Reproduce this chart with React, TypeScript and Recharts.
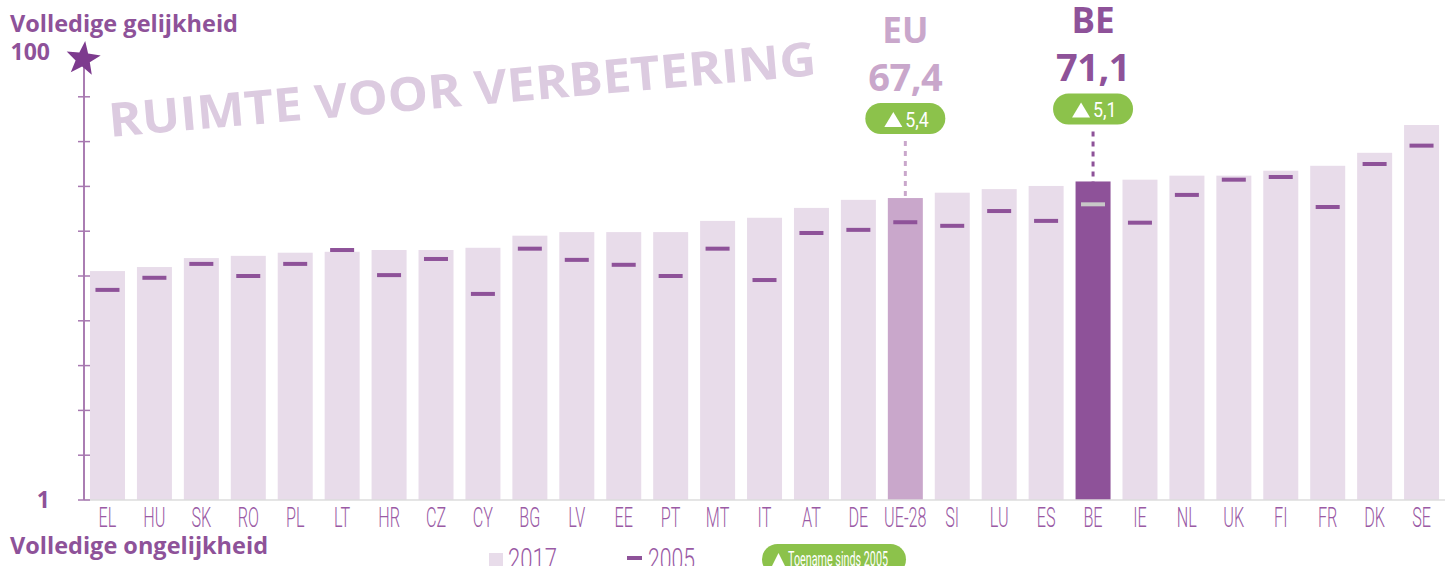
import React from 'react';
import { ComposedChart, Bar, Scatter, XAxis, YAxis } from 'recharts';

const categories = ['EL', 'HU', 'SK', 'RO', 'PL', 'LT', 'HR', 'CZ', 'CY', 'BG', 'LV', 'EE', 'PT', 'MT', 'IT', 'AT', 'DE', 'UE-28', 'SI', 'LU', 'ES', 'BE', 'IE', 'NL', 'UK', 'FI', 'FR', 'DK', 'SE'];
const values2017 = [51.1, 52.0, 54.0, 54.5, 55.2, 55.4, 55.8, 55.8, 56.3, 59.0, 59.8, 59.8, 59.8, 62.3, 63.0, 65.2, 67.0, 67.4, 68.6, 69.4, 70.1, 71.1, 71.5, 72.4, 72.4, 73.5, 74.6, 77.5, 83.7];
const values2005 = [46.9, 49.6, 52.7, 50.0, 52.7, 55.8, 50.2, 53.8, 46.0, 56.1, 53.6, 52.5, 50.0, 56.1, 49.1, 59.6, 60.3, 62.0, 61.2, 64.5, 62.3, 66.0, 61.9, 68.1, 71.5, 72.1, 65.4, 75.0, 79.1];
const highlightCodes = ['UE-28', 'BE'];
const highlightTitles = ['EU', 'BE'];
const yTicks = [0, 10, 20, 30, 40, 50, 60, 70, 80, 90, 100];
const yTickLabels = ['1', '', '', '', '', '', '', '', '', '', '100'];
const seriesNames = ['2017', '2005'];
const topTitle = 'Volledige gelijkheid';
const bottomTitle = 'Volledige ongelijkheid';
const watermark = 'RUIMTE VOOR VERBETERING';
const increaseLabel = 'Toename sinds 2005';

const data = categories.map((code, i) => ({ code, v2017: values2017[i], v2005: values2005[i] }));

const PURPLE = '#8e5299';
const LIGHT = '#e8dcea';
const MID = '#c9a7cb';
const GREEN = '#8cc24b';
const LABEL = '#9a5aa5';
const BOLD_FONT = "'Open Sans', 'Noto Sans', sans-serif";
const COND_FONT = "Roboto, 'Liberation Sans', sans-serif";

const fmt = (v: number) => v.toFixed(1).replace('.', ',');

function BarShape(props: any) {
  const { x, y, width, height, payload } = props;
  const hi = highlightCodes.indexOf(payload.code);
  const fill = payload.code === 'BE' ? PURPLE : payload.code === 'UE-28' ? MID : LIGHT;
  const rect = <rect x={x} y={y} width={width} height={height} fill={fill} />;
  if (hi < 0) return rect;
  const cx = x + width / 2;
  const color = payload.code === 'BE' ? PURPLE : MID;
  const lift = payload.code === 'BE' ? 88 : 95;
  const pillTop = y - lift;
  const delta = fmt(payload.v2017 - payload.v2005);
  return (
    <g>
      {rect}
      <line x1={cx} x2={cx} y1={pillTop + 38} y2={y + 2} stroke={color} strokeWidth={3} strokeDasharray="5 5" />
      <rect x={cx - 40} y={pillTop} width={80} height={31} rx={15.5} fill={GREEN} />
      <path d={`M${cx - 21},${pillTop + 24} L${cx - 3},${pillTop + 24} L${cx - 12},${pillTop + 9} Z`} fill="#fff" />
      <g transform={`translate(${cx},${pillTop + 24}) scale(0.85,1)`}>
        <text x={0} y={0} fontSize={21} fontFamily={COND_FONT} fill="#fff">{delta}</text>
      </g>
      <text x={cx} y={pillTop - 12} textAnchor="middle" fontSize={38} fontWeight={700} fontFamily={BOLD_FONT} fill={color} letterSpacing={-0.5}>{fmt(payload.v2017)}</text>
      <text x={cx} y={pillTop - 60} textAnchor="middle" fontSize={35} fontWeight={700} fontFamily={BOLD_FONT} fill={color}>{highlightTitles[hi]}</text>
    </g>
  );
}

function MarkerShape(props: any) {
  const { cx, cy, payload } = props;
  if (cx == null || cy == null) return null;
  return <rect x={cx - 12} y={cy - 2} width={24} height={4} fill={payload && payload.code === 'BE' ? '#c8c8c8' : PURPLE} />;
}

function starPath(cx: number, cy: number, ro: number, ri: number) {
  let d = '';
  for (let i = 0; i < 10; i++) {
    const r = i % 2 === 0 ? ro : ri;
    const a = -Math.PI / 2 + (i * Math.PI) / 5 + 0.12;
    d += (i === 0 ? 'M' : 'L') + (cx + r * Math.cos(a)).toFixed(1) + ',' + (cy + r * Math.sin(a)).toFixed(1);
  }
  return d + 'Z';
}

function YTick(props: any) {
  const { x, y, payload } = props;
  const idx = yTicks.indexOf(payload.value);
  const label = idx >= 0 ? yTickLabels[idx] : '';
  const axisX = x + 34;
  const isTop = payload.value === 100;
  return (
    <g>
      {!isTop && <line x1={axisX - 6} x2={axisX + 6} y1={y} y2={y} stroke="#a778b0" strokeWidth={1.5} />}
      {isTop && <path d={starPath(axisX - 1, y + 7, 18, 7.5)} fill="#7d3b8e" />}
      {label && (
        <text x={x} y={y + 8} textAnchor="end" fontSize={23} fontWeight={700} fontFamily={BOLD_FONT} fill={PURPLE}>{label}</text>
      )}
    </g>
  );
}

function XTick(props: any) {
  const { x, y, payload } = props;
  return (
    <g transform={`translate(${x},${y + 27}) scale(0.6,1)`}>
      <text x={0} y={0} textAnchor="middle" fontSize={27} fontWeight={300} fontFamily={COND_FONT} fill={LABEL}>{payload.value}</text>
    </g>
  );
}

export default function App() {
  return (
    <div style={{ position: 'absolute', left: 0, top: 0, width: 1446, height: 566, overflow: 'hidden', background: '#fff' }}>
      <ComposedChart width={1446} height={566} data={data} margin={{ top: 52, right: 1, left: 0, bottom: 36 }} barSize={35}>
        <XAxis dataKey="code" interval={0} tickSize={0} tickMargin={0} tickLine={false} axisLine={{ stroke: '#dcdcdc', strokeWidth: 1.5 }} tick={<XTick />} height={30} />
        <YAxis type="number" domain={[0, 100]} ticks={yTicks} interval={0} width={84} tickSize={0} tickMargin={34} tickLine={false} axisLine={{ stroke: PURPLE, strokeWidth: 1.5 }} tick={<YTick />} />
        <Bar dataKey="v2017" name={seriesNames[0]} isAnimationActive={false} shape={<BarShape />} />
        <Scatter dataKey="v2005" name={seriesNames[1]} isAnimationActive={false} shape={<MarkerShape />} />
      </ComposedChart>
      <svg width={1446} height={566} style={{ position: 'absolute', left: 0, top: 0, pointerEvents: 'none' }}>
        <text x={10} y={32} fontSize={23} fontWeight={700} fontFamily={BOLD_FONT} fill={PURPLE} textLength={228} lengthAdjust="spacingAndGlyphs">{topTitle}</text>
        <text x={10} y={554} fontSize={23} fontWeight={700} fontFamily={BOLD_FONT} fill={PURPLE} textLength={258} lengthAdjust="spacingAndGlyphs">{bottomTitle}</text>
        <text x={110} y={137} transform="rotate(-5 110 137)" fontSize={47} fontWeight={700} fontFamily={BOLD_FONT} fill="#dccbe0" textLength={710} lengthAdjust="spacingAndGlyphs">{watermark}</text>
        <rect x={489} y={553} width={14} height={14} fill={LIGHT} />
        <text x={508} y={570} fontSize={32} fontWeight={300} fontFamily={COND_FONT} fill={LABEL} textLength={49} lengthAdjust="spacingAndGlyphs">{seriesNames[0]}</text>
        <rect x={627} y={556} width={15} height={4} fill={PURPLE} />
        <text x={648} y={570} fontSize={32} fontWeight={300} fontFamily={COND_FONT} fill={LABEL} textLength={47} lengthAdjust="spacingAndGlyphs">{seriesNames[1]}</text>
        <rect x={762} y={544} width={144} height={31} rx={15.5} fill={GREEN} />
        <path d="M772,566 L785,566 L778.5,553 Z" fill="#fff" />
        <text x={788} y={566} fontSize={21} fontFamily={COND_FONT} fill="#fff" textLength={100} lengthAdjust="spacingAndGlyphs">{increaseLabel}</text>
      </svg>
    </div>
  );
}
